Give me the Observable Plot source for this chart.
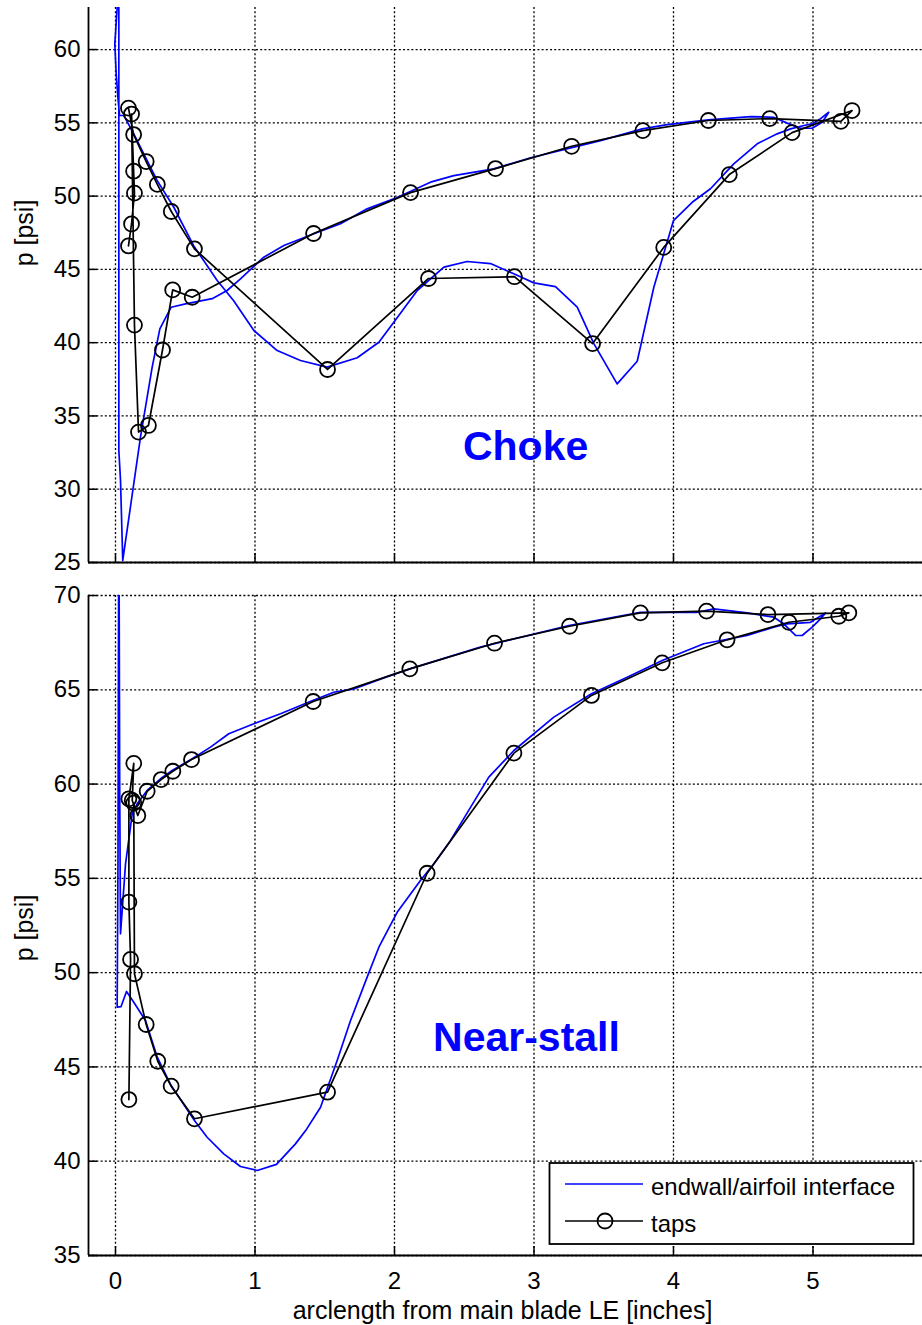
<!DOCTYPE html>
<html><head><meta charset="utf-8">
<script src="https://cdn.jsdelivr.net/npm/d3@7"></script>
<script src="https://cdn.jsdelivr.net/npm/@observablehq/plot@0.6"></script>
<style>
body{margin:0;background:#fff;}
#wrap{position:relative;width:922px;height:1325px;font-family:"Liberation Sans",Arial,sans-serif;}
#wrap > svg, #wrap > div{position:absolute;left:0;}
</style></head><body><div id="wrap"></div>
<script>
// ---------- data ----------
const xTicks = [0, 1, 2, 3, 4, 5];
const chokeYTicks = [25, 30, 35, 40, 45, 50, 55, 60];
const stallYTicks = [35, 40, 45, 50, 55, 60, 65, 70];
const xDomain = [-0.1935, 5.785];
const chokeYDomain = [25, 62.87];
const stallYDomain = [35, 70];

const xLabel = "arclength from main blade LE [inches]";
const yLabel = "p [psi]";
const seriesNames = ["endwall/airfoil interface", "taps"];
const panelNames = ["Choke", "Near-stall"];
const panelNameX = [2.94, 2.946];
const panelNameY = [32.9, 46.56];

// Choke: endwall/airfoil interface (blue)
const chokeSurfX = [5.113,5.054,5.0,4.935,4.839,4.743,4.6,4.432,4.265,4.134,4.0,3.859,3.74,3.596,3.43,3.31,3.154,2.999,2.855,2.688,2.521,2.354,2.163,1.995,1.888,1.733,1.517,1.326,1.159,0.992,0.846,0.729,0.561,0.418,0.299,0.131,0.06,0.029,0.017,0.005,-0.005,0.0,0.012,0.02,0.024,0.024,0.036,0.052,0.179,0.263,0.318,0.399,0.502,0.693,0.80,0.896,1.063,1.207,1.422,1.613,1.804,1.995,2.258,2.425,2.712,2.97,3.477,3.776,3.955,4.25,4.552,4.717,4.815,4.91,4.994,5.066,5.109];
const chokeSurfP = [55.72,55.29,54.95,54.82,54.59,54.25,53.57,52.2,50.5,49.58,48.33,43.78,38.73,37.19,39.92,42.42,43.83,44.08,44.7,45.4,45.54,45.15,43.56,41.4,40.03,38.97,38.33,38.78,39.46,40.83,42.88,44.24,46.6,49.24,51.06,54.25,55.5,55.5,56.75,58.35,60.4,61.07,62.89,66.0,62.8,32.64,30.6,25.14,33.55,38.33,40.94,42.42,42.65,43.0,43.56,44.36,45.83,46.63,47.43,48.11,49.13,49.81,50.95,51.4,51.86,52.6,53.79,54.59,54.88,55.2,55.43,55.38,54.98,54.63,54.63,55.04,55.66];

// Choke: taps (black circles)
const chokeTapX = [0.093,0.115,0.136,0.13,0.115,0.136,0.165,0.236,0.337,0.41,0.55,1.42,2.115,2.724,3.27,3.78,4.25,4.69,5.20,5.28,4.85,4.40,3.93,3.42,2.86,2.244,1.52,0.566,0.40,0.30,0.22,0.13,0.093];
const chokeTapP = [46.6,48.1,50.2,51.7,55.6,41.2,33.9,34.35,39.5,43.6,43.1,47.45,50.24,51.88,53.4,54.47,55.16,55.29,55.1,55.84,54.33,51.47,46.5,39.94,44.5,44.38,38.17,46.4,48.95,50.8,52.36,54.2,56.0];

// Near-stall: endwall/airfoil interface (blue)
const stallSurfX = [5.09,4.982,4.815,4.719,4.528,4.217,3.919,3.668,3.412,3.142,2.856,2.676,2.401,2.282,2.186,2.019,1.888,1.804,1.685,1.589,1.47,1.37,1.29,1.154,1.016,0.896,0.776,0.657,0.566,0.4,0.3,0.215,0.131,0.079,0.04,0.012,0.018,0.024,0.03,0.036,0.072,0.12,0.155,0.227,0.323,0.406,0.55,0.681,0.812,0.992,1.183,1.414,1.565,1.708,1.948,2.11,2.616,3.25,3.763,4.17,4.289,4.528,4.719,4.79,4.875,4.922,4.994,5.054,5.09];
const stallSurfP = [69.08,68.58,68.5,68.32,67.88,67.44,66.55,65.67,64.79,63.55,61.78,60.37,57.0,55.77,54.89,53.2,51.35,49.76,47.46,45.34,42.86,41.7,40.92,39.83,39.51,39.72,40.39,41.27,42.16,44.0,45.5,47.46,48.43,49.0,48.2,48.17,56.0,76.0,60.0,52.06,55.77,58.42,58.95,59.66,60.28,60.72,61.34,61.96,62.67,63.2,63.73,64.43,64.87,65.05,65.7,66.11,67.26,68.41,69.11,69.11,69.29,69.08,68.85,68.5,67.88,67.88,68.32,68.76,69.08];

// Near-stall: taps (black circles)
const stallTapX = [0.096,0.108,0.096,0.096,0.131,0.12,0.16,0.227,0.327,0.411,0.545,1.417,2.11,2.717,3.255,3.763,4.237,4.677,5.257,5.185,4.827,4.384,3.919,3.412,2.856,2.234,1.52,0.566,0.399,0.303,0.22,0.136,0.131];
const stallTapP = [43.27,50.70,53.74,59.22,61.1,59.13,58.33,59.62,60.24,60.68,61.3,64.38,66.11,67.47,68.37,69.08,69.17,68.99,69.08,68.9,68.58,67.65,66.43,64.7,61.64,55.27,43.66,42.25,43.98,45.3,47.25,49.94,58.99];

// ---------- drawing ----------
(function () {
const rows = (xs, ps) => xs.map((x, i) => ({x, p: ps[i]}));
const FONT = "Liberation Sans, Arial, sans-serif";
const BLUE = "#0000ff";

function panel({height, marginTop, marginBottom, yDomain, yTicks, surf, taps, nameIdx, showX}) {
  const W = 922, ML = 88, MR = 0;
  const fw = W - ML - MR, fh = height - marginTop - marginBottom;
  const grid = {stroke: "black", strokeOpacity: 1, strokeWidth: 1.3, strokeDasharray: "2,2.2"};
  const marks = [
    Plot.gridX(xTicks, grid),
    Plot.gridY(yTicks, grid),
    Plot.ruleY(yTicks, {stroke: "black", strokeWidth: 1.5, insetRight: fw - 9}),
    Plot.ruleX(xTicks, {stroke: "black", strokeWidth: 1.5, insetTop: fh - 9}),
    Plot.ruleX([xDomain[0]], {stroke: "black", strokeWidth: 1.8}),
    Plot.ruleY([yDomain[0]], {stroke: "black", strokeWidth: 1.8}),
    Plot.axisY(yTicks, {tickSize: 0, tickPadding: 8, label: null, fontSize: 24, tickFormat: "d"}),
    Plot.line(surf, {x: "x", y: "p", stroke: BLUE, strokeWidth: 1.7, clip: true}),
    Plot.line(taps, {x: "x", y: "p", stroke: "black", strokeWidth: 1.7, clip: true}),
    Plot.dot(taps, {x: "x", y: "p", r: 7.5, stroke: "black", strokeWidth: 1.8, fill: "none"}),
    Plot.text([nameIdx], {
      x: (i) => panelNameX[i], y: (i) => panelNameY[i], text: (i) => panelNames[i],
      fill: BLUE, fontWeight: "bold", fontSize: 41, fontFamily: FONT
    })
  ];
  if (showX) marks.push(Plot.axisX(xTicks, {tickSize: 0, tickPadding: 16, label: null, fontSize: 24, tickFormat: "d"}));
  return Plot.plot({
    width: W, height, marginLeft: ML, marginRight: MR, marginTop, marginBottom,
    style: {fontFamily: FONT, fontSize: "24px", color: "black", background: "transparent", overflow: "visible"},
    x: {domain: xDomain, axis: showX ? undefined : null},
    y: {domain: yDomain},
    marks
  });
}

const wrap = document.getElementById("wrap");
const topPlot = panel({height: 575, marginTop: 7, marginBottom: 13, yDomain: chokeYDomain, yTicks: chokeYTicks,
  surf: rows(chokeSurfX, chokeSurfP), taps: rows(chokeTapX, chokeTapP), nameIdx: 0, showX: false});
topPlot.style.top = "0px";
wrap.appendChild(topPlot);
const botPlot = panel({height: 750, marginTop: 20, marginBottom: 70, yDomain: stallYDomain, yTicks: stallYTicks,
  surf: rows(stallSurfX, stallSurfP), taps: rows(stallTapX, stallTapP), nameIdx: 1, showX: true});
botPlot.style.top = "575px";
wrap.appendChild(botPlot);

// ---------- labels & legend overlay ----------
const ov = d3.select(wrap).append("svg")
  .attr("width", 922).attr("height", 1325)
  .style("position", "absolute").style("left", "0px").style("top", "0px")
  .style("pointer-events", "none")
  .attr("font-family", FONT);
[233, 928].forEach((cy) => {
  ov.append("text").attr("transform", `translate(33,${cy}) rotate(-90)`)
    .attr("text-anchor", "middle").attr("font-size", 25).text(yLabel);
});
ov.append("text").attr("x", 502.5).attr("y", 1319).attr("text-anchor", "middle")
  .attr("font-size", 25).text(xLabel);
const lg = ov.append("g");
lg.append("rect").attr("x", 549.5).attr("y", 1163).attr("width", 364).attr("height", 81)
  .attr("fill", "white").attr("stroke", "black").attr("stroke-width", 1.8);
lg.append("line").attr("x1", 565).attr("x2", 643).attr("y1", 1184).attr("y2", 1184)
  .attr("stroke", BLUE).attr("stroke-width", 1.7);
lg.append("text").attr("x", 651).attr("y", 1195).attr("font-size", 24).text(seriesNames[0]);
lg.append("line").attr("x1", 565).attr("x2", 643).attr("y1", 1221).attr("y2", 1221)
  .attr("stroke", "black").attr("stroke-width", 1.7);
lg.append("circle").attr("cx", 605).attr("cy", 1221).attr("r", 7.5)
  .attr("fill", "none").attr("stroke", "black").attr("stroke-width", 1.8);
lg.append("text").attr("x", 651).attr("y", 1232).attr("font-size", 24).text(seriesNames[1]);
})();
</script>
</body></html>
